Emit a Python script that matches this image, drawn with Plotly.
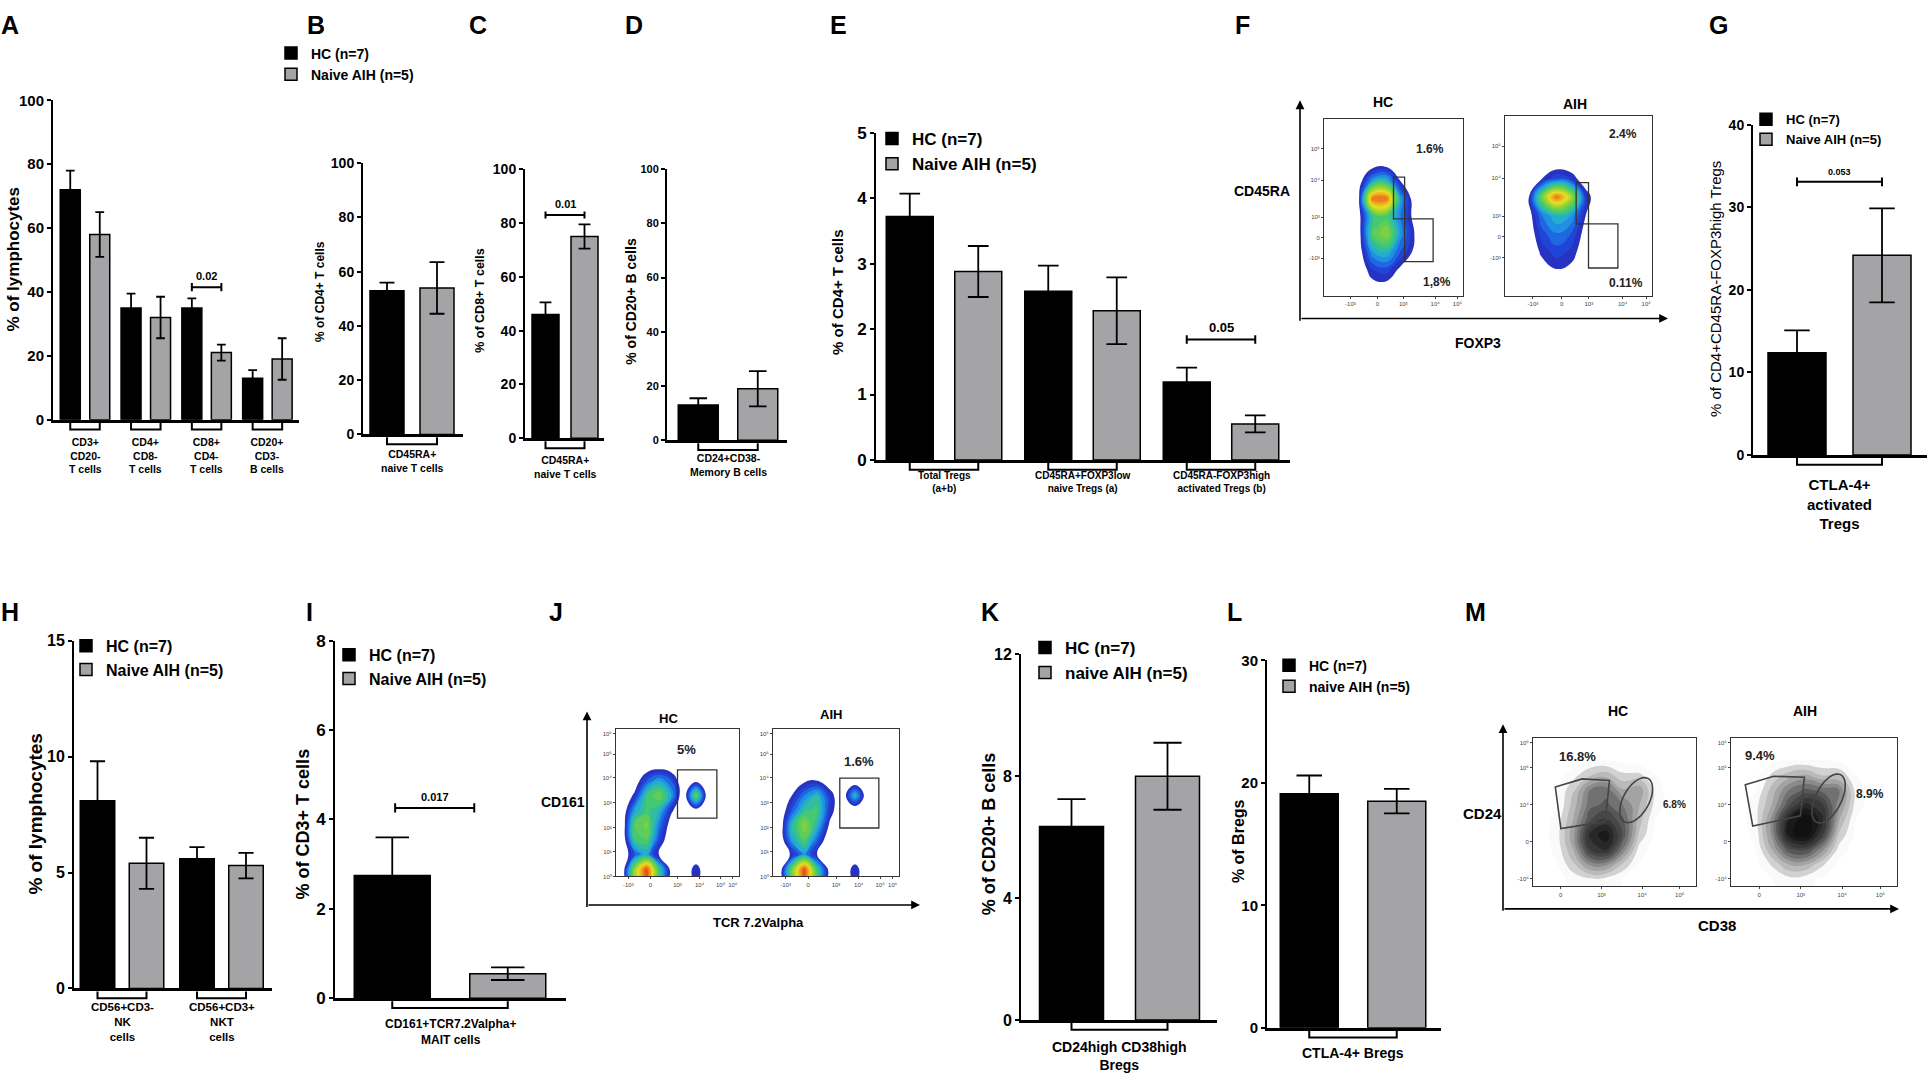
import numpy as np
import plotly.graph_objects as go

W, H = 1929, 1081
NARROW = 'Liberation Sans Narrow, Liberation Sans, Arial, sans-serif'
ARIAL = 'Liberation Sans, Arial, sans-serif'
GRAY = '#a4a4a7'

HC_NAME = 'HC (n=7)'
AIH_NAME = 'Naive AIH (n=5)'
AIH_NAME_LC = 'naive AIH (n=5)'

# ── Bar data (mean, SEM) ──────────────────────────────────────────────────────
A_CATS = ['CD3+<br>CD20-<br>T cells', 'CD4+<br>CD8-<br>T cells',
          'CD8+<br>CD4-<br>T cells', 'CD20+<br>CD3-<br>B cells']
A_HC, A_HC_ERR = [72, 35, 35, 13], [6, 4.5, 3, 2.5]
A_AIH, A_AIH_ERR = [58, 32, 21, 19], [7, 6.5, 2.5, 6.5]

B_CATS = ['CD45RA+<br>naive T cells']
B_HC, B_HC_ERR = [53], [3]
B_AIH, B_AIH_ERR = [54], [9.5]

C_CATS = ['CD45RA+<br>naive T cells']
C_HC, C_HC_ERR = [46], [4.5]
C_AIH, C_AIH_ERR = [75], [4.5]

D_CATS = ['CD24+CD38-<br>Memory B cells']
D_HC, D_HC_ERR = [13], [2.5]
D_AIH, D_AIH_ERR = [19], [6.5]

E_CATS = ['Total Tregs<br>(a+b)', 'CD45RA+FOXP3low<br>naive Tregs (a)',
          'CD45RA-FOXP3high<br>activated Tregs (b)']
E_HC, E_HC_ERR = [3.72, 2.58, 1.19], [0.35, 0.39, 0.22]
E_AIH, E_AIH_ERR = [2.88, 2.28, 0.55], [0.39, 0.51, 0.13]

G_CATS = ['CTLA-4+<br>activated<br>Tregs']
G_HC, G_HC_ERR = [12.4], [2.7]
G_AIH, G_AIH_ERR = [24.2], [5.7]

H_CATS = ['CD56+CD3-<br>NK<br>cells', 'CD56+CD3+<br>NKT<br>cells']
H_HC, H_HC_ERR = [8.1, 5.6], [1.7, 0.5]
H_AIH, H_AIH_ERR = [5.4, 5.3], [1.1, 0.55]

I_CATS = ['CD161+TCR7.2Valpha+<br>MAIT cells']
I_HC, I_HC_ERR = [2.75], [0.85]
I_AIH, I_AIH_ERR = [0.55], [0.14]

K_CATS = ['CD24high CD38high<br>Bregs']
K_HC, K_HC_ERR = [6.35], [0.9]
K_AIH, K_AIH_ERR = [8.0], [1.1]

L_CATS = ['CTLA-4+ Bregs']
L_HC, L_HC_ERR = [19.1], [1.5]
L_AIH, L_AIH_ERR = [18.5], [1.0]

# significance: (group index, bracket level, p value)
SIG_A = [(2, 41.5, '0.02')]
SIG_C = [(0, 83.0, '0.01')]
SIG_E = [(2, 1.84, '0.05')]
SIG_G = [(0, 33.1, '0.053')]
SIG_I = [(0, 4.26, '0.017')]

# ── Flow cytometry densities (rows top -> bottom, cols left -> right) ─────────
F_HC = [
    [0, 0, 0, 0, 0, 0, 0, 0, 0, 0],
    [0, 0, 0, 0, 0, 0, 0, 0, 0, 0],
    [0, 0, 0, .02, .03, 0, 0, 0, 0, 0],
    [0, 0, .04, .30, .35, .10, 0, 0, 0, 0],
    [0, 0, .08, .85, .85, .30, .03, 0, 0, 0],
    [0, 0, .06, .40, .45, .25, .06, .02, 0, 0],
    [0, 0, .05, .45, .55, .28, .10, .05, .01, 0],
    [0, 0, .04, .30, .35, .20, .08, .04, 0, 0],
    [0, 0, .03, .15, .18, .08, .02, 0, 0, 0],
    [0, 0, .01, .06, .06, .02, 0, 0, 0, 0],
]
F_AIH = [
    [0, 0, 0, 0, 0, 0, 0, 0, 0, 0],
    [0, 0, 0, 0, 0, 0, 0, 0, 0, 0],
    [0, 0, 0, .01, .01, 0, 0, 0, 0, 0],
    [0, 0, .10, .20, .15, .03, 0, 0, 0, 0],
    [0, .04, .50, .85, .60, .15, 0, 0, 0, 0],
    [0, .03, .25, .35, .30, .10, 0, 0, 0, 0],
    [0, .02, .18, .25, .20, .06, 0, 0, 0, 0],
    [0, .01, .12, .18, .14, .04, 0, 0, 0, 0],
    [0, 0, .06, .10, .08, .02, 0, 0, 0, 0],
    [0, 0, .02, .04, .02, 0, 0, 0, 0, 0],
]
J_HC = [
    [0, 0, 0, 0, 0, 0, 0, 0, 0, 0],
    [0, 0, 0, 0, 0, 0, 0, 0, 0, 0],
    [0, 0, .02, .04, .02, 0, 0, 0, 0, 0],
    [0, .03, .20, .30, .20, 0, .06, 0, 0, 0],
    [0, .12, .40, .50, .30, 0, .50, 0, 0, 0],
    [0, .30, .42, .35, .12, 0, .06, 0, 0, 0],
    [0, .45, .52, .25, .04, 0, 0, 0, 0, 0],
    [0, .40, .45, .18, 0, 0, 0, 0, 0, 0],
    [0, .20, .30, .08, 0, 0, 0, 0, 0, 0],
    [0, .55, .90, .40, .05, 0, .15, 0, 0, 0],
]
J_AIH = [
    [0, 0, 0, 0, 0, 0, 0, 0, 0, 0],
    [0, 0, 0, 0, 0, 0, 0, 0, 0, 0],
    [0, 0, 0, 0, 0, 0, 0, 0, 0, 0],
    [0, .02, .08, .10, .03, 0, 0, 0, 0, 0],
    [0, .10, .25, .35, .15, 0, .35, 0, 0, 0],
    [0, .20, .38, .42, .15, 0, 0, 0, 0, 0],
    [0, .35, .55, .35, .08, 0, 0, 0, 0, 0],
    [0, .30, .45, .22, 0, 0, 0, 0, 0, 0],
    [0, .12, .28, .10, 0, 0, 0, 0, 0, 0],
    [0, .50, .90, .40, .05, 0, .15, 0, 0, 0],
]
M_HC = [
    [0, 0, 0, 0, 0, 0, 0, 0, 0, 0],
    [0, 0, 0, .05, .05, .03, 0, 0, 0, 0],
    [0, 0, .10, .20, .25, .15, .15, .05, 0, 0],
    [0, .05, .20, .45, .50, .30, .35, .10, 0, 0],
    [0, .05, .25, .50, .55, .45, .30, .10, 0, 0],
    [0, .08, .30, .60, .70, .55, .25, .05, 0, 0],
    [0, .10, .35, .80, .90, .60, .20, .03, 0, 0],
    [0, .08, .30, .70, .80, .45, .10, 0, 0, 0],
    [0, .05, .20, .40, .40, .20, .05, 0, 0, 0],
    [0, .02, .08, .12, .10, .05, 0, 0, 0, 0],
]
M_AIH = [
    [0, 0, 0, 0, 0, 0, 0, 0, 0, 0],
    [0, 0, .02, .05, .05, .05, .03, 0, 0, 0],
    [0, .03, .15, .25, .30, .20, .20, .05, 0, 0],
    [0, .05, .25, .45, .55, .50, .45, .10, 0, 0],
    [0, .10, .30, .60, .80, .70, .40, .10, 0, 0],
    [0, .10, .40, .85, 1.0, .80, .30, .05, 0, 0],
    [0, .08, .40, .90, 1.0, .70, .20, .03, 0, 0],
    [0, .05, .30, .60, .65, .40, .10, 0, 0, 0],
    [0, .02, .15, .30, .30, .15, .03, 0, 0, 0],
    [0, 0, .05, .10, .08, .03, 0, 0, 0, 0],
]
FLOW_GRID = np.round(np.arange(0.05, 1.0, 0.1), 2)

JET = [[0, '#ffffff'], [0.04, '#ffffff'], [0.06, '#2a2ab8'], [0.15, '#1f48dc'],
       [0.28, '#1fa6e6'], [0.40, '#3cc878'], [0.55, '#86d23a'], [0.70, '#e8e020'],
       [0.84, '#f08a1e'], [1, '#e01e1e']]
GREYS = [[0, '#ffffff'], [0.04, '#ffffff'], [0.07, '#e2e2e2'], [0.3, '#a8a8a8'],
         [0.6, '#555555'], [1, '#111111']]

# ── Layout geometry (pixels) ──────────────────────────────────────────────────
GEO = {
    'A': dict(box=(53, 299, 93, 418), c0=85, U=60.8, d=29.5, w=20, ymax=100, dtick=20),
    'B': dict(box=(363, 463, 157, 433), c0=412, U=50, d=50, w=34, ymax=100, dtick=20),
    'C': dict(box=(525, 604, 163, 437), c0=565, U=39, d=39, w=27, ymax=100, dtick=20),
    'D': dict(box=(667, 787, 163, 439), c0=728, U=59.5, d=59.5, w=40, ymax=100, dtick=20),
    'E': dict(box=(876, 1290, 126, 459), c0=944, U=138.5, d=68.5, w=47, ymax=5, dtick=1),
    'G': dict(box=(1753, 1927, 118, 454), c0=1839.5, U=85, d=85, w=58, ymax=40, dtick=10),
    'H': dict(box=(74, 272, 643, 997), c0=122, U=99.5, d=49, w=34.5, ymax=15, dtick=5),
    'I': dict(box=(335, 566, 643, 1007), c0=450, U=115.5, d=115.5, w=76, ymax=8, dtick=2),
    'K': dict(box=(1021, 1217, 657, 1029), c0=1119.5, U=96, d=96, w=64, ymax=12, dtick=4),
    'L': dict(box=(1267, 1441, 663, 1037), c0=1353, U=87.5, d=87.5, w=58, ymax=30, dtick=10),
}

fig = go.Figure()
lay = {}
shapes = []
annos = []
n_ax = [0]


def new_axes(x0, x1, y0, y1):
    n_ax[0] += 1
    s = '' if n_ax[0] == 1 else str(n_ax[0])
    lay['xaxis' + s] = dict(domain=[x0 / W, x1 / W], anchor='y' + s)
    lay['yaxis' + s] = dict(domain=[1 - y1 / H, 1 - y0 / H], anchor='x' + s)
    return 'x' + s, 'y' + s


def text(x, y, t, size, family=ARIAL, bold=True, angle=0):
    annos.append(dict(x=x / W, y=1 - y / H, xref='paper', yref='paper', text=t,
                      showarrow=False, textangle=angle, xanchor='center', yanchor='middle',
                      font=dict(size=size, family=family, color='black',
                                weight='bold' if bold else 'normal')))


def bar_panel(key, cats, hc, hc_err, aih, aih_err, tick_size, tick_family,
              lab_top, lab_size, legend='legend', show_legend=False,
              aih_name=AIH_NAME, sig=(), sig_size=11, sig_span=(-0.5, 0.5)):
    g = GEO[key]
    x0, x1, yt, yb = g['box']
    xa, ya = new_axes(x0, x1, yt, yb)
    U = g['U']
    d, w = g['d'] / U, g['w'] / U
    for vals, errs, color, name, off in [(hc, hc_err, 'black', HC_NAME, -d / 2),
                                          (aih, aih_err, GRAY, aih_name, d / 2)]:
        fig.add_trace(go.Bar(
            x=cats, y=vals, offset=off - w / 2, width=w, name=name,
            marker=dict(color=color, line=dict(color='black', width=1.5)),
            error_y=dict(type='data', array=errs, color='black', thickness=1.8,
                         width=max(3, g['w'] * 0.22)),
            xaxis=xa, yaxis=ya, legend=legend, showlegend=show_legend,
            hoverinfo='skip',
        ))
    k = xa[1:]
    lay['xaxis' + k].update(
        type='category', categoryorder='array', categoryarray=cats,
        range=[(x0 - g['c0']) / U, (x1 - g['c0']) / U],
        showline=True, linewidth=3, linecolor='black', showticklabels=False,
        ticks='', showgrid=False, zeroline=False, fixedrange=True)
    lay['yaxis' + k].update(
        range=[0, g['ymax']], tick0=0, dtick=g['dtick'], ticks='outside',
        ticklen=4, tickwidth=2, tickcolor='black', showline=True, linewidth=2,
        linecolor='black', showgrid=False, zeroline=False, fixedrange=True,
        tickfont=dict(size=tick_size, family=tick_family, color='black', weight='bold'))
    # group brackets and category labels under the axis
    for i, c in enumerate(cats):
        ya0, ya1 = 1 - (yb + 3) / H, 1 - (yb + 10) / H
        shapes.append(dict(type='path', xref=xa, yref='paper',
                           path=f'M{i - d / 2},{ya0} L{i - d / 2},{ya1} L{i + d / 2},{ya1} L{i + d / 2},{ya0}',
                           line=dict(color='black', width=2)))
        annos.append(dict(x=i, y=1 - lab_top / H, xref=xa, yref='paper', text=c,
                          showarrow=False, yanchor='top', xanchor='center',
                          font=dict(size=lab_size, family=NARROW, color='black', weight='bold')))
    # significance brackets
    cap = g['ymax'] * 0.013
    for gi, lvl, p in sig:
        bx0, bx1 = gi + sig_span[0] * d, gi + sig_span[1] * d
        shapes.append(dict(type='path', xref=xa, yref=ya,
                           path=(f'M{bx0},{lvl - cap} L{bx0},{lvl + cap} M{bx0},{lvl} L{bx1},{lvl} '
                                 f'M{bx1},{lvl - cap} L{bx1},{lvl + cap}'),
                           line=dict(color='black', width=2)))
        annos.append(dict(x=(bx0 + bx1) / 2, y=lvl, xref=xa, yref=ya, text=p,
                          showarrow=False, yanchor='bottom', xanchor='center', yshift=3,
                          font=dict(size=sig_size, family=NARROW, color='black', weight='bold')))


def flow_panel(box, z, cscale, xt, yt, step=0.05):
    xa, ya = new_axes(*box)
    # extend the density grid to the frame edges
    gx = np.concatenate([[0.0], FLOW_GRID, [1.0]])
    gy = gx[::-1]
    zz = np.pad(np.asarray(z, float), 1, mode='edge')
    fig.add_trace(go.Contour(
        x=gx, y=gy, z=zz, colorscale=cscale, zmin=0, zmax=1,
        contours=dict(start=0.05, end=1.0, size=step, coloring='fill', showlines=False),
        line=dict(width=0, smoothing=1.3), showscale=False, hoverinfo='skip',
        xaxis=xa, yaxis=ya))
    k = xa[1:]
    base = dict(range=[0, 1], showline=True, mirror=True, linecolor='#333', linewidth=1,
                showgrid=False, zeroline=False, ticks='outside', ticklen=2, tickwidth=1,
                tickcolor='#444', tickfont=dict(size=6, color='#444', family=ARIAL),
                fixedrange=True)
    lay['xaxis' + k].update(base, tickvals=xt[0], ticktext=xt[1])
    lay['yaxis' + k].update(base, tickvals=yt[0], ticktext=yt[1])
    return xa, ya


def gate_rect(xa, ya, x0, x1, y0, y1):
    shapes.append(dict(type='rect', xref=xa, yref=ya, x0=x0, x1=x1, y0=y0, y1=y1,
                       line=dict(color='#333', width=1.3)))


def gate_poly(xa, ya, pts):
    path = 'M' + ' L'.join(f'{x},{y}' for x, y in pts) + ' Z'
    shapes.append(dict(type='path', xref=xa, yref=ya, path=path,
                       line=dict(color='#444', width=1.6)))


def gate_ellipse(xa, ya, box, cx, cy, a, b, tilt_deg):
    wpx, hpx = box[1] - box[0], box[3] - box[2]
    t = np.linspace(0, 2 * np.pi, 60)
    th = np.radians(tilt_deg)
    u = np.array([np.sin(th), np.cos(th)])
    v = np.array([np.cos(th), -np.sin(th)])
    px = a * np.outer(np.cos(t), u) + b * np.outer(np.sin(t), v)
    pts = [(cx + p[0] / wpx, cy + p[1] / hpx) for p in px]
    gate_poly(xa, ya, pts)


def flow_text(xa, ya, x, y, t, size=12):
    annos.append(dict(x=x, y=y, xref=xa, yref=ya, text=t, showarrow=False,
                      xanchor='center', yanchor='middle',
                      font=dict(size=size, family=NARROW, color='#222', weight='bold')))


def arrow(tip, tail):
    annos.append(dict(x=tip[0] / W, y=1 - tip[1] / H, xref='paper', yref='paper',
                      ax=tail[0] - tip[0], ay=tail[1] - tip[1], axref='pixel', ayref='pixel',
                      text='', showarrow=True, arrowhead=2, arrowsize=1.1,
                      arrowwidth=1.6, arrowcolor='black'))


def legend_cfg(sw_left, sw_top, size, family=NARROW):
    return dict(x=(sw_left - 14) / W, y=1 - (sw_top - 4) / H, xanchor='left', yanchor='top',
                bgcolor='rgba(0,0,0,0)', borderwidth=0, itemclick=False,
                itemdoubleclick=False, tracegroupgap=0, traceorder='normal',
                font=dict(size=size, family=family, color='black', weight='bold'))


# ── Top row ───────────────────────────────────────────────────────────────────
bar_panel('A', A_CATS, A_HC, A_HC_ERR, A_AIH, A_AIH_ERR, 15, NARROW, 433, 10.5,
          sig=SIG_A, sig_size=11)
bar_panel('B', B_CATS, B_HC, B_HC_ERR, B_AIH, B_AIH_ERR, 14, NARROW, 445, 10.5,
          legend='legend', show_legend=True)
bar_panel('C', C_CATS, C_HC, C_HC_ERR, C_AIH, C_AIH_ERR, 14, NARROW, 451, 10.5,
          sig=SIG_C, sig_size=11)
bar_panel('D', D_CATS, D_HC, D_HC_ERR, D_AIH, D_AIH_ERR, 11, NARROW, 449, 10.5)
bar_panel('E', E_CATS, E_HC, E_HC_ERR, E_AIH, E_AIH_ERR, 17, ARIAL, 467, 10,
          legend='legend2', show_legend=True, sig=SIG_E, sig_size=13)
bar_panel('G', G_CATS, G_HC, G_HC_ERR, G_AIH, G_AIH_ERR, 14, NARROW, 473, 15,
          legend='legend3', show_legend=True, sig=SIG_G, sig_size=9)

# ── Bottom row ────────────────────────────────────────────────────────────────
bar_panel('H', H_CATS, H_HC, H_HC_ERR, H_AIH, H_AIH_ERR, 16, NARROW, 1008, 11.5,
          legend='legend4', show_legend=True)
bar_panel('I', I_CATS, I_HC, I_HC_ERR, I_AIH, I_AIH_ERR, 17, NARROW, 1024, 12,
          legend='legend5', show_legend=True, sig=SIG_I, sig_size=11,
          sig_span=(-0.475, 0.21))
bar_panel('K', K_CATS, K_HC, K_HC_ERR, K_AIH, K_AIH_ERR, 16, NARROW, 1046, 14,
          legend='legend6', show_legend=True, aih_name=AIH_NAME_LC)
bar_panel('L', L_CATS, L_HC, L_HC_ERR, L_AIH, L_AIH_ERR, 15, NARROW, 1052, 14,
          legend='legend7', show_legend=True, aih_name=AIH_NAME_LC)

# ── Flow plots ────────────────────────────────────────────────────────────────
LOG_X_F = ([0.19, 0.385, 0.57, 0.80, 0.96], ['-10³', '0', '10³', '10⁴', '10⁵'])
LOG_Y_F = ([0.213, 0.33, 0.444, 0.654, 0.833], ['-10³', '0', '10³', '10⁴', '10⁵'])

box = (1324, 1463, 112, 292)
xa, ya = flow_panel(box, F_HC, JET, LOG_X_F, LOG_Y_F)
gate_rect(xa, ya, 0.50, 0.58, 0.435, 0.672)
gate_rect(xa, ya, 0.58, 0.785, 0.194, 0.435)
flow_text(xa, ya, 0.76, 0.83, '1.6%')
flow_text(xa, ya, 0.81, 0.08, '1,8%')

box = (1505, 1652, 109, 292)
xa, ya = flow_panel(box, F_AIH, JET, LOG_X_F, LOG_Y_F)
gate_rect(xa, ya, 0.484, 0.568, 0.40, 0.63)
gate_rect(xa, ya, 0.568, 0.768, 0.155, 0.40)
flow_text(xa, ya, 0.80, 0.90, '2.4%')
flow_text(xa, ya, 0.825, 0.07, '0.11%')

LOG_X_J = ([0.10, 0.28, 0.50, 0.68, 0.85, 0.95], ['-10³', '0', '10³', '10⁴', '10⁵', '10⁶'])
LOG_Y_J = ([0.0, 0.17, 0.33, 0.50, 0.67, 0.83, 0.97],
           ['10⁰', '10¹', '10²', '10³', '10⁴', '10⁵', '10⁶'])

box = (616, 739, 733, 883)
xa, ya = flow_panel(box, J_HC, JET, LOG_X_J, LOG_Y_J)
gate_rect(xa, ya, 0.50, 0.82, 0.396, 0.724)
flow_text(xa, ya, 0.57, 0.86, '5%', 13)

box = (773, 899, 733, 883)
xa, ya = flow_panel(box, J_AIH, JET, LOG_X_J, LOG_Y_J)
gate_rect(xa, ya, 0.53, 0.84, 0.329, 0.667)
flow_text(xa, ya, 0.68, 0.78, '1.6%', 13)

LOG_X_M = ([0.17, 0.42, 0.67, 0.90], ['0', '10³', '10⁴', '10⁵'])
LOG_Y_M = ([0.05, 0.30, 0.55, 0.80, 0.97], ['-10⁴', '0', '10⁴', '10⁵', '10⁶'])

box = (1533, 1696, 742, 893)
xa, ya = flow_panel(box, M_HC, GREYS, LOG_X_M, LOG_Y_M, step=0.08)
gate_poly(xa, ya, [(.137, .669), (.302, .724), (.469, .713), (.443, .437), (.171, .389)])
gate_ellipse(xa, ya, box, 0.633, 0.581, 25, 13, 28)
flow_text(xa, ya, 0.27, 0.874, '16.8%', 13)
flow_text(xa, ya, 0.871, 0.552, '6.8%', 10)

box = (1731, 1897, 742, 893)
xa, ya = flow_panel(box, M_AIH, GREYS, LOG_X_M, LOG_Y_M, step=0.08)
gate_poly(xa, ya, [(.086, .684), (.257, .742), (.442, .735), (.418, .475), (.131, .406)])
gate_ellipse(xa, ya, box, 0.588, 0.592, 27, 13, 26)
flow_text(xa, ya, 0.177, 0.879, '9.4%', 13)
flow_text(xa, ya, 0.839, 0.625, '8.9%', 12)

# big flow axes arrows and labels
arrow((1300, 93), (1300, 315))
arrow((1668, 315), (1300, 315))
arrow((587, 715), (587, 912))
arrow((920, 912), (587, 912))
arrow((1503, 728), (1503, 916))
arrow((1899, 916), (1503, 916))

text(1383, 95, 'HC', 14, NARROW)
text(1575, 97, 'AIH', 14, NARROW)
text(1262, 185, 'CD45RA', 14, NARROW)
text(1478, 340, 'FOXP3', 14, NARROW)
text(668, 722, 'HC', 13, NARROW)
text(831, 718, 'AIH', 13, NARROW)
text(563, 807, 'CD161', 14, NARROW)
text(758, 930, 'TCR 7.2Valpha', 13, NARROW)
text(1618, 715, 'HC', 14, NARROW)
text(1805, 715, 'AIH', 14, NARROW)
text(1482, 819, 'CD24', 15, NARROW)
text(1717, 933, 'CD38', 15, NARROW)

# y-axis titles
for x, y, t, s in [(14, 255, '% of lymphocytes', 17), (320, 288, '% of CD4+ T cells', 12),
                   (480, 297, '% of CD8+ T cells', 12.5), (631, 298, '% of CD20+ B cells', 14),
                   (838, 289, '% of CD4+ T cells', 15),
                   (36, 819, '% of lymphocytes', 19), (303, 830, '% of CD3+ T cells', 18),
                   (989, 839, '% of CD20+ B cells', 18), (1238, 847, '% of Bregs', 16)]:
    text(x, y, t, s, ARIAL, angle=-90)
text(1716, 285, '% of CD4+CD45RA-FOXP3high Tregs', 15, ARIAL, bold=False, angle=-90)

# panel letters
for x, y, t in [(10, 16, 'A'), (316, 16, 'B'), (478, 16, 'C'), (634, 16, 'D'),
                (838, 16, 'E'), (1242, 16, 'F'), (1718, 16, 'G'),
                (10, 614, 'H'), (309, 614, 'I'), (556, 614, 'J'), (990, 614, 'K'),
                (1234, 614, 'L'), (1475, 614, 'M')]:
    text(x, y, t, 25, ARIAL)

lay.update(
    legend=legend_cfg(285, 33, 14),
    legend2=legend_cfg(886, 118, 17, ARIAL),
    legend3=legend_cfg(1760, 101, 13),
    legend4=legend_cfg(80, 635, 16),
    legend5=legend_cfg(343, 644, 16),
    legend6=legend_cfg(1039, 636, 17),
    legend7=legend_cfg(1283, 656, 14),
)

fig.update_layout(
    width=W, height=H, margin=dict(l=0, r=0, t=0, b=0),
    paper_bgcolor='white', plot_bgcolor='white',
    font=dict(family=ARIAL, color='black'),
    hovermode=False, dragmode=False,
    shapes=shapes, annotations=annos, **lay,
)

fig.write_html('out.html', config={'displayModeBar': False},
               post_script="document.body.style.margin='0';"
                           "document.body.style.overflow='hidden';")
